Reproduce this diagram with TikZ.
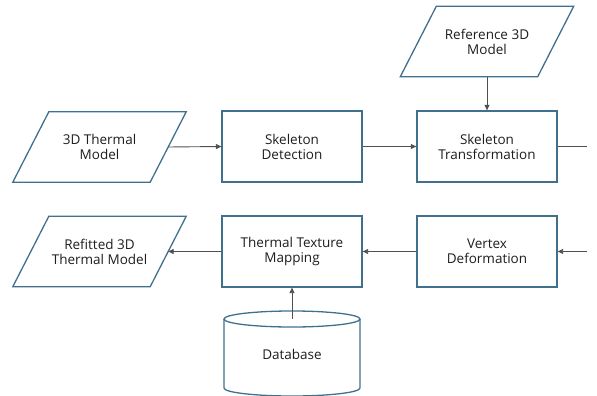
\documentclass[tikz,border=0pt]{standalone}
\usepackage{fontspec}
\setmainfont{Open Sans}
\usetikzlibrary{arrows.meta,calc}
\definecolor{edge}{HTML}{41708F}
\definecolor{conn}{HTML}{505050}
\definecolor{txt}{HTML}{1E1E1E}
\begin{document}
\begin{tikzpicture}[x=1pt,y=-1pt,
  lbl/.style={inner sep=0pt,minimum width=137pt,minimum height=70pt,align=center,
    font=\fontsize{13.5}{15}\selectfont,text=txt},
  boxnode/.style={lbl,draw=edge,line width=1.3pt,minimum width=140pt,minimum height=71pt},
  shapeline/.style={draw=edge,line width=1.3pt,line join=miter},
  conline/.style={draw=conn,line width=0.9pt},
  arr/.style={conline,-{Triangle[length=5.5pt,width=5pt]}}]
\useasboundingbox (0,0) rectangle (597,396);
% parallelogram nodes
\node[lbl] (tm) at (99.5,147) {3D Thermal\\Model};
\node[lbl] (rm) at (99.5,251.5) {Refitted 3D\\Thermal Model};
\node[lbl] (r3) at (487,41.5) {Reference 3D\\Model};
\foreach \n in {tm,rm,r3}{
  \draw[shapeline] ([xshift=-18pt]\n.south west) -- ([xshift=18pt]\n.north west)
    -- ([xshift=18pt]\n.north east) -- ([xshift=-18pt]\n.south east) -- cycle;
}
% boxes
\node[boxnode] (sd) at (292,146.5) {Skeleton\\Detection};
\node[boxnode] (st) at (487,146.5) {Skeleton\\Transformation};
\node[boxnode] (vd) at (487,251.5) {Vertex\\Deformation};
\node[boxnode] (ttm) at (292,251.5) {Thermal Texture\\Mapping};
% database cylinder
\node[lbl,minimum width=136pt,minimum height=60pt] (db) at (292,354) {Database};
\draw[shapeline] (224,319) -- (224,388) arc[start angle=180,end angle=360,x radius=68,y radius=-8] -- (360,319);
\draw[shapeline] (292,319) ellipse[x radius=68,y radius=8];
\coordinate (dbtop) at (292,319);
% free ends on the right
\coordinate (rout) at (587,146.5);
\coordinate (rin) at (587,251.5);
% connectors
\draw[arr] (tm.east) -- (sd.west);
\draw[arr] (sd.east) -- (st.west);
\draw[arr] (r3.south) -- (st.north);
\draw[conline] (st.east) -- (rout);
\draw[arr] (rin) -- (vd.east);
\draw[arr] (vd.west) -- (ttm.east);
\draw[arr] (ttm.west) -- (rm.east);
\draw[arr] (dbtop) -- (ttm.south);
\end{tikzpicture}
\end{document}
